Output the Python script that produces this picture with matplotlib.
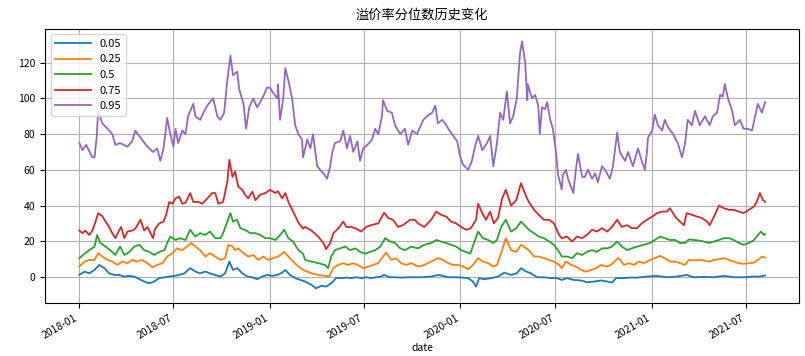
import pandas as pd
import matplotlib
matplotlib.use('Agg')
import matplotlib.pyplot as plt
import matplotlib.dates as mdates

plt.rcParams['font.family'] = ['Noto Sans CJK SC', 'DejaVu Sans']
plt.rcParams['axes.unicode_minus'] = False

start = pd.Timestamp('2018-01-02')
title = '溢价率分位数历史变化'
labels = ['0.05', '0.25', '0.5', '0.75', '0.95']

# days since start / value
days_05 = [0, 10, 19, 29, 38, 48, 57, 67, 76, 86, 96, 105, 115, 124, 134, 143, 153, 163,
           172, 182, 191, 201, 212, 222, 231, 241, 250, 260, 270, 279, 287, 294, 302, 312,
           321, 331, 340, 350, 359, 369, 379, 388, 394, 403, 413, 423, 432, 444, 453, 463,
           472, 482, 491, 501, 511, 520, 530, 539, 549, 558, 568, 577, 583, 595, 604, 616,
           629, 642, 654, 673, 688, 706, 725, 744, 753, 759, 765, 774, 788, 801, 813, 826,
           837, 845, 855, 864, 876, 889, 903, 914, 923, 933, 946, 960, 971, 985, 998, 1010,
           1019, 1027, 1038, 1055, 1067, 1086, 1105, 1124, 1143, 1162, 1176, 1195, 1214,
           1233, 1252, 1271, 1291, 1302, 1312]
q05 = [1.1, 3, 2, 3.9, 6.7, 4.9, 2, 1.1, 1.1, 0.2, 0.6, 0.2, -1.3, -2.6, -3.6, -2.6, -0.7, -0.2,
       0.2, 0.6, 1.1, 2, 4.9, 3, 2, 3, 2, 1.1, 0.2, 2, 8.6, 3.9, 4.9, 2,
       0.2, -0.2, -1.3, 0.2, 1.1, 0.6, 1.1, 2.4, 3.9, 1.1, -0.7, -1.7, -2.6, -4.5, -6.4, -5,
       -5.4, -3.6, -0.7, -0.7, -0.4, -0.7, -0.2, -0.7, -0.2, -0.7, -0.2, 0.2, 1.1, -0.2, -0.2, -0.4,
       -0.2, -0.2, -0.2, 0.2, 1.1, -0.2, -0.2, -0.7, -2.6, -5.4, -0.7, -1.3, -0.7, 0.2, 2.4, 1.1,
       2, 4.9, 3, 2, -0.2, -0.2, -0.7, -0.7, -1.7, -0.7, -1.7, -2, -3, -2.6, -2, -2.6,
       -3.2, -0.7, -0.7, -0.4, -0.4, 0.2, 0.6, -0.2, 0.2, 1.1, -0.2, 0, -0.2,
       0.6, -0.2, -0.2, 0.2, 0.2, 0.8]

days_25 = [0, 10, 19, 29, 36, 44, 54, 63, 73, 82, 92, 101, 111, 120, 130, 140, 149, 159,
           168, 178, 187, 197, 206, 214, 222, 231, 241, 250, 260, 270, 279, 285, 293, 298,
           304, 314, 323, 333, 342, 352, 361, 371, 380, 392, 400, 409, 419, 428, 444, 457,
           470, 478, 486, 495, 505, 514, 524, 533, 543, 553, 562, 572, 581, 587, 597, 606,
           616, 625, 635, 648, 660, 673, 686, 696, 706, 715, 725, 734, 744, 753, 763, 772,
           782, 792, 799, 807, 816, 826, 836, 845, 855, 860, 870, 879, 889, 899, 908, 918,
           923, 931, 941, 950, 960, 969, 979, 989, 998, 1008, 1017, 1027, 1032, 1042, 1052,
           1061, 1071, 1080, 1092, 1101, 1111, 1120, 1130, 1140, 1149, 1159, 1166, 1176,
           1185, 1195, 1205, 1214, 1224, 1233, 1243, 1252, 1262, 1271, 1281, 1291, 1300,
           1306, 1312]
q25 = [5.8, 8.6, 9.5, 9.5, 13.3, 11.4, 9.5, 8.6, 6.7, 8.6, 7.7, 9.5, 8.6, 9.5, 7.7, 5.4, 6.7, 7.7,
       11.4, 13.3, 16, 15, 17, 19, 17, 15, 11.4, 13.3, 11.4, 9.5, 10.5, 18, 17, 15,
       16, 13.3, 11.4, 12.3, 9.5, 11.4, 9.5, 10.5, 11.4, 14, 11.4, 8.6, 5.8, 3.9, 2, 1.1,
       0.6, 0.2, 4.9, 6.7, 7.7, 6.7, 7.7, 6.7, 4.9, 5.8, 6.7, 7.7, 11.4, 13.6, 9.5, 10.5,
       7.7, 6.7, 7.7, 5.8, 6.7, 8.6, 10.5, 9.5, 7.7, 6.7, 6.7, 5.8, 4.3, 6.7, 10.5, 8.6,
       7.7, 5.8, 6.7, 13.3, 21.7, 15, 14, 18, 16, 15, 11.4, 11.4, 10.5, 9.5, 8.6, 6.7,
       4.9, 8.6, 6.7, 5.8, 3.9, 2.9, 3.9, 4.9, 6.7, 5.8, 6.7, 9.5, 10.5, 6.7, 7.7,
       6.7, 8.6, 7.7, 9.5, 10.5, 11.8, 10.5, 8.6, 8.6, 7.7, 6.7, 9.5, 9.2,
       9.5, 9.2, 8.6, 9.5, 9.9, 10.5, 9.5, 8.6, 7.7, 7.3, 7.7, 8, 9.9,
       11.4, 10.8]

days_5 = [0, 10, 19, 29, 34, 40, 50, 59, 69, 78, 86, 96, 105, 115, 124, 134, 143, 153,
          163, 168, 174, 184, 193, 203, 212, 222, 231, 241, 250, 260, 270, 275, 283, 289,
          294, 302, 308, 317, 327, 337, 346, 356, 365, 375, 384, 392, 400, 409, 419, 428,
          432, 444, 457, 470, 476, 482, 489, 499, 509, 518, 528, 537, 547, 556, 566, 576,
          585, 595, 604, 614, 623, 635, 648, 660, 673, 683, 692, 702, 711, 721, 730, 740,
          748, 755, 763, 772, 782, 792, 799, 807, 816, 826, 836, 845, 855, 860, 870, 879,
          889, 899, 908, 918, 923, 933, 943, 952, 962, 971, 981, 990, 1000, 1010, 1019,
          1029, 1038, 1048, 1057, 1067, 1080, 1092, 1101, 1111, 1120, 1130, 1140, 1149,
          1159, 1166, 1176, 1185, 1195, 1205, 1214, 1224, 1233, 1243, 1252, 1262, 1271,
          1281, 1291, 1296, 1304, 1310, 1312]
q5 = [10.5, 13, 15, 17, 23.5, 19, 17, 15, 12.3, 17, 12.3, 14, 17, 18, 15, 14, 12.3, 14,
      15, 19, 22.6, 20.7, 21.7, 20.7, 26.4, 22.6, 24.5, 23.5, 25.4, 21.7, 21.7, 24.5, 31, 35.7,
      31, 32, 27.3, 26.4, 24.5, 24.5, 23.5, 21.7, 21.7, 20.7, 23.5, 26.4, 21.7, 19.8, 15, 13,
      9.5, 8.6, 7.7, 6.7, 4.9, 11.4, 15, 16, 17, 15, 16, 14, 13, 14, 15, 17,
      21.7, 19.8, 19, 16, 15, 17, 16, 18, 19, 20.7, 19.8, 19, 18, 17, 15, 14,
      13, 19, 25.4, 21.7, 20.7, 19, 20.7, 28, 32, 25.4, 27.3, 31, 28, 26.4, 24.5, 22.6,
      21.7, 19.8, 18, 14, 11.4, 11.4, 10.5, 13.3, 12.3, 14, 15, 14, 16, 16, 17,
      19.8, 17, 15, 16, 17, 18, 19, 20.7, 22.6, 21.7, 20.7, 20.7, 19,
      19, 21, 20.7, 20.4, 19.8, 19, 19.8, 20.7, 21.7, 21.7, 20.7, 19, 18,
      19, 20.7, 22.6, 25.4, 23.5, 24]

days_75 = [0, 6, 11, 19, 25, 31, 36, 44, 50, 57, 63, 69, 76, 80, 86, 92, 101, 107,
           117, 124, 130, 136, 141, 145, 153, 161, 166, 172, 178, 184, 191, 197, 203, 212,
           218, 228, 235, 245, 254, 260, 266, 275, 283, 287, 293, 298, 304, 312, 317, 323,
           331, 337, 346, 356, 365, 375, 380, 388, 394, 400, 409, 419, 428, 432, 444, 457,
           467, 472, 480, 486, 495, 505, 511, 520, 530, 539, 549, 558, 572, 583, 591, 600,
           610, 619, 633, 642, 648, 660, 673, 683, 692, 702, 711, 721, 730, 740, 749, 759,
           763, 771, 778, 786, 793, 801, 809, 816, 826, 836, 845, 855, 860, 870, 879, 889,
           899, 908, 918, 923, 933, 943, 952, 962, 971, 981, 990, 1000, 1010, 1019, 1029,
           1038, 1048, 1057, 1067, 1076, 1086, 1096, 1105, 1115, 1124, 1130, 1140, 1149,
           1157, 1162, 1172, 1182, 1191, 1201, 1206, 1216, 1224, 1233, 1243, 1252, 1262,
           1271, 1281, 1291, 1296, 1302, 1308, 1312]
q75 = [26, 24.5, 26, 23.5, 26, 31, 35.7, 34, 31, 28, 24.5, 21.7, 26, 28, 21.7, 25.4, 26, 27,
       32, 26, 28, 24.5, 21.7, 27, 30, 31, 34.8, 42, 41, 44, 45, 41, 41.5, 47,
       42, 42, 41, 44, 47, 47, 41, 42, 53, 65.6, 56, 59, 50.6, 48.8, 46, 44,
       47.8, 43, 46, 47, 48.8, 47, 48, 44, 47, 42, 36.6, 30.5, 27, 28, 26, 22.6,
       19, 15.5, 19, 24.5, 27, 31, 28, 28, 27, 25.4, 28, 29, 30, 36, 33, 32,
       28, 29, 32, 32, 30, 28, 32, 36.6, 34.8, 33.8, 31, 30, 28, 26.4, 27.3, 32,
       41, 35.7, 32, 36.6, 30, 33, 44, 48.8, 40, 43, 52.5, 45, 42, 37.6, 34.8, 32,
       32, 30, 23.5, 21.7, 22.6, 19.8, 22.6, 21.7, 23.5, 26.4, 25.4, 27.3, 25.4, 28, 32,
       28, 29, 27.3, 27.3, 30, 32, 33.8, 35.7, 36.6, 36.6, 38.5, 33.8, 31,
       29, 35.7, 34.8, 33.8, 33, 31, 29, 34.8, 40, 38.5, 37.6, 37.6, 36.6,
       35.7, 37.6, 39.4, 42, 47, 43, 42]

days_95 = [0, 6, 13, 25, 29, 33, 36, 44, 54, 63, 69, 78, 92, 101, 107, 117, 130, 141,
           149, 155, 161, 168, 174, 180, 184, 189, 197, 203, 208, 218, 222, 231, 239, 247,
           256, 264, 270, 277, 283, 289, 294, 302, 306, 314, 319, 325, 333, 340, 350, 359,
           365, 371, 379, 380, 384, 390, 394, 400, 407, 413, 419, 426, 428, 436, 442, 447,
           455, 461, 467, 474, 480, 484, 489, 499, 505, 512, 518, 524, 532, 537, 543, 551,
           560, 566, 572, 579, 581, 589, 598, 604, 614, 623, 629, 637, 646, 652, 658, 665,
           675, 681, 686, 694, 700, 706, 713, 723, 728, 734, 744, 751, 757, 763, 771, 780,
           786, 792, 799, 805, 811, 818, 824, 830, 837, 843, 847, 853, 857, 858, 866, 872,
           878, 881, 885, 891, 895, 901, 906, 912, 916, 923, 925, 931, 935, 945, 950, 954,
           962, 967, 973, 981, 987, 992, 1000, 1006, 1015, 1021, 1029, 1034, 1044, 1050,
           1059, 1069, 1076, 1082, 1086, 1088, 1096, 1101, 1107, 1115, 1120, 1126, 1136,
           1145, 1153, 1159, 1164, 1172, 1178, 1187, 1197, 1206, 1212, 1220, 1226, 1231,
           1235, 1241, 1249, 1254, 1264, 1271, 1279, 1287, 1293, 1298, 1306, 1312]
q95 = [75, 71, 74, 67, 67, 78, 93, 86, 83, 80, 74, 75, 73, 76, 82, 78, 73, 70,
       72, 65, 72, 89, 80, 73, 83, 75, 82, 80, 90, 97, 90, 88, 93, 97,
       100, 90, 88, 92, 110, 124, 113, 115, 105, 97, 83, 95, 100, 95, 100, 106,
       106, 103, 100, 108, 88, 100, 117, 110, 100, 85, 80, 77, 67, 77, 72, 80,
       62, 60, 58, 55, 62, 70, 75, 76, 82, 72, 79, 70, 76, 65, 72, 74,
       77, 83, 80, 90, 99, 93, 92, 85, 80, 83, 74, 82, 80, 84, 88, 90,
       92, 96, 86, 88, 86, 83, 80, 76, 68, 63, 60, 65, 73, 79, 71, 75,
       79, 62, 75, 92, 88, 104, 86, 90, 100, 125, 132, 120, 99, 108, 100, 102,
       96, 80, 95, 94, 98, 88, 83, 70, 57, 49, 57, 60, 55, 47, 60, 69,
       56, 56, 60, 55, 58, 53, 62, 60, 55, 62, 81, 70, 65, 70,
       62, 72, 65, 60, 70, 78, 82, 91, 85, 82, 88, 84, 80,
       75, 67, 75, 88, 85, 93, 85, 90, 85, 90, 92, 102, 101,
       108, 100, 93, 85, 88, 83, 83, 82, 90, 97, 92, 98]

series = [(days_05, q05), (days_25, q25), (days_5, q5), (days_75, q75), (days_95, q95)]

fig = plt.figure(figsize=(8.05, 3.56), dpi=100)
ax = fig.add_axes([0.056, 0.149, 0.937, 0.77])

for (d, v), lab in zip(series, labels):
    dates = start + pd.to_timedelta(d, unit='D')
    ax.plot(dates, v, label=lab, linewidth=1.3)

ax.set_ylim(-14.6, 139)
ax.set_yticks([0, 20, 40, 60, 80, 100, 120])
ax.xaxis.set_major_locator(mdates.MonthLocator(bymonth=[1, 7]))
ax.xaxis.set_major_formatter(mdates.DateFormatter('%Y-%m'))
ax.grid(True)
ax.tick_params(labelsize=7.5)
for lbl in ax.get_xticklabels():
    lbl.set_rotation(30)
    lbl.set_ha('right')
ax.set_xlabel('date', fontsize=7.5, labelpad=2)
ax.set_title(title, fontsize=9.5, pad=7)
ax.legend(loc='upper left', fontsize=8, handlelength=3.2)

fig.savefig('out.png', dpi=100)
